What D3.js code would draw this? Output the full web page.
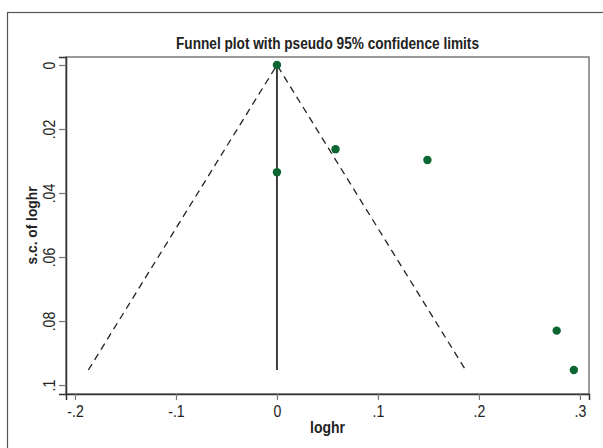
<!DOCTYPE html>
<html lang="en">
<head>
    <meta charset="UTF-8">
    <title>Funnel plot</title>
    <script src="https://cdnjs.cloudflare.com/ajax/libs/d3/7.8.5/d3.min.js"></script>
    <style>
        body { margin: 0; background: #fff; }
        svg text { font-family: "Liberation Sans", Arial, sans-serif; fill: #222; }
    </style>
</head>
<body>
    <div id="wrapper"></div>
    <script>
        // study estimates
        const loghr = [0, 0, 0.058, 0.149, 0.277, 0.294]
        const seLoghr = [0, 0.0335, 0.0263, 0.0297, 0.083, 0.0953]
        const xTicks = [-0.2, -0.1, 0, 0.1, 0.2, 0.3]
        const yTicks = [0, 0.02, 0.04, 0.06, 0.08, 0.1]

        const titleText = 'Funnel plot with pseudo 95% confidence limits'
        const xTitle = 'loghr'
        const yTitle = 's.c. of loghr'

        const dimensions = {
            width: 603,
            height: 448,
            margin: { top: 57, right: 14, bottom: 54, left: 66 }
        }
        dimensions.boundedWidth = dimensions.width - dimensions.margin.left - dimensions.margin.right
        dimensions.boundedHeight = dimensions.height - dimensions.margin.top - dimensions.margin.bottom

        const svg = d3.select('#wrapper')
            .append('svg')
                .attr('width', dimensions.width)
                .attr('height', dimensions.height)

        // outer frame
        svg.append('rect')
            .attr('x', 7.5).attr('y', 12.5)
            .attr('width', 610).attr('height', 450)
            .attr('fill', 'none')
            .attr('stroke', '#555')
            .attr('stroke-width', 1.2)

        const bounds = svg.append('g')
            .attr('transform', `translate(${dimensions.margin.left},${dimensions.margin.top})`)

        // scales
        const xScale = d3.scaleLinear()
            .domain([-0.2089, 0.309])
            .range([0, dimensions.boundedWidth])

        const yScale = d3.scaleLinear()
            .domain([-0.0025, 0.1028])
            .range([0, dimensions.boundedHeight])

        // plot region box
        bounds.append('rect')
            .attr('width', dimensions.boundedWidth)
            .attr('height', dimensions.boundedHeight)
            .attr('fill', 'none')
            .attr('stroke', '#666')
            .attr('stroke-width', 1.3)

        // pseudo 95% limits
        const maxSe = d3.max(seLoghr)
        const limitLine = d3.line()
            .x(d => xScale(d[0]))
            .y(d => yScale(d[1]))

        bounds.append('path')
            .attr('d', limitLine([[-1.96 * maxSe, maxSe], [0, 0], [1.96 * maxSe, maxSe]]))
            .attr('fill', 'none')
            .attr('stroke', '#222')
            .attr('stroke-width', 1.3)
            .attr('stroke-dasharray', '7,5')

        bounds.append('path')
            .attr('d', limitLine([[0, 0], [0, maxSe]]))
            .attr('fill', 'none')
            .attr('stroke', '#111')
            .attr('stroke-width', 1.6)

        // studies
        bounds.selectAll('circle')
            .data(loghr)
            .join('circle')
                .attr('cx', d => xScale(d))
                .attr('cy', (d, i) => yScale(seLoghr[i]))
                .attr('r', 4.2)
                .attr('fill', '#0b6631')

        // stata style labels: no leading zero, plain hyphen
        const stataFmt = d => {
            if (d === 0) return '0'
            return String(+d.toFixed(2)).replace('0.', '.')
        }

        // axes
        const xAxis = bounds.append('g')
            .attr('transform', `translate(0,${dimensions.boundedHeight})`)
            .call(d3.axisBottom(xScale)
                .tickValues(xTicks)
                .tickSize(6)
                .tickPadding(6)
                .tickFormat(stataFmt))
        xAxis.select('.domain').attr('stroke', '#333').attr('stroke-width', 1.5)
        xAxis.selectAll('.tick line').attr('stroke', '#777').attr('stroke-width', 1.2)
        xAxis.selectAll('.tick text')
            .attr('font-size', 16)
            .attr('fill', '#222')
            .attr('transform', 'scale(0.88,1)')

        const yAxis = bounds.append('g')
            .call(d3.axisLeft(yScale)
                .tickValues(yTicks)
                .tickSize(7)
                .tickPadding(0)
                .tickFormat(stataFmt))
        yAxis.select('.domain').attr('stroke', '#333').attr('stroke-width', 1.5)
        yAxis.selectAll('.tick line').attr('stroke', '#777').attr('stroke-width', 1.2)
        yAxis.selectAll('.tick text')
            .attr('font-size', 16)
            .attr('fill', '#222')
            .attr('x', null).attr('dy', null)
            .attr('text-anchor', 'middle')
            .attr('transform', 'translate(-11.5,0) rotate(-90) scale(0.88,1)')

        // titles
        svg.append('text')
            .attr('x', dimensions.margin.left + dimensions.boundedWidth / 2)
            .attr('y', 49)
            .attr('text-anchor', 'middle')
            .attr('font-size', 16)
            .attr('font-weight', 'bold')
            .attr('textLength', 303)
            .attr('lengthAdjust', 'spacingAndGlyphs')
            .text(titleText)

        svg.append('text')
            .attr('x', dimensions.margin.left + dimensions.boundedWidth / 2)
            .attr('y', 433)
            .attr('text-anchor', 'middle')
            .attr('font-size', 16)
            .attr('font-weight', 'bold')
            .attr('textLength', 35)
            .attr('lengthAdjust', 'spacingAndGlyphs')
            .text(xTitle)

        svg.append('text')
            .attr('transform', `translate(37,${dimensions.margin.top + dimensions.boundedHeight / 2}) rotate(-90)`)
            .attr('text-anchor', 'middle')
            .attr('font-size', 15)
            .attr('font-weight', 'bold')
            .attr('textLength', 78)
            .attr('lengthAdjust', 'spacingAndGlyphs')
            .text(yTitle)
    </script>
</body>
</html>
